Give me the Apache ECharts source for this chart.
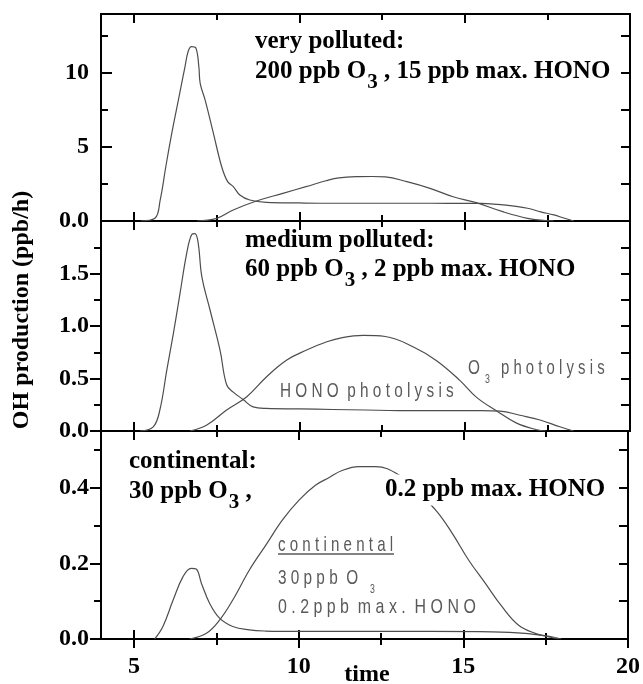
<!DOCTYPE html>
<html>
<head>
<meta charset="utf-8">
<script src="https://cdn.jsdelivr.net/npm/echarts@6/dist/echarts.min.js"></script>
<style>html,body{margin:0;padding:0;background:#fff}#c{width:643px;height:684px}</style>
</head>
<body>
<div id="c"></div>
<script>
// ---------- data (time in h, OH production in ppb/h) ----------
// very polluted
const tHonoVP = [5.2, 5.63, 5.79, 5.96, 6.14, 6.34, 6.54, 6.64, 6.74, 6.87, 6.96, 7.0, 7.15, 7.4, 7.65, 7.83, 8.0, 8.2, 8.5, 9.0, 10, 11, 12, 13, 14, 15, 15.5, 16.0, 16.5, 16.9, 17.3, 17.7, 18.0, 18.3];
const vHonoVP = [0, 0.18, 1.42, 3.67, 5.93, 8.18, 10.43, 11.5, 11.8, 11.7, 10.43, 9.31, 8.18, 5.93, 3.67, 2.66, 2.32, 1.76, 1.42, 1.26, 1.22, 1.2, 1.2, 1.2, 1.2, 1.19, 1.19, 1.12, 1.0, 0.86, 0.62, 0.41, 0.2, 0];
const tO3VP = [6.9, 7.5, 8.0, 8.7, 9.5, 10.2, 10.8, 11.2, 11.8, 12.2, 12.6, 13.25, 13.95, 14.65, 15.35, 16.15, 16.9, 17.45, 17.7];
const vO3VP = [0, 0.18, 0.74, 1.35, 1.87, 2.32, 2.72, 2.92, 3.0, 3.01, 2.98, 2.66, 2.21, 1.64, 1.24, 0.63, 0.18, 0.03, 0];
// medium polluted
const tHonoMP = [5.18, 5.58, 5.78, 5.99, 6.19, 6.39, 6.59, 6.74, 6.84, 6.94, 7.05, 7.3, 7.6, 7.8, 8.0, 8.3, 8.6, 9.0, 10, 11, 12, 13, 14, 15, 15.5, 16.07, 16.67, 17.28, 17.88, 18.29];
const vHonoMP = [0, 0.04, 0.2, 0.58, 0.93, 1.31, 1.69, 1.87, 1.88, 1.79, 1.47, 1.15, 0.77, 0.44, 0.37, 0.30, 0.23, 0.215, 0.21, 0.205, 0.2, 0.195, 0.195, 0.195, 0.195, 0.19, 0.15, 0.105, 0.04, 0];
const tO3MP = [6.69, 7.2, 7.8, 8.41, 9.01, 9.62, 10.22, 10.83, 11.3, 11.93, 12.6, 13.45, 14.15, 14.86, 15.36, 15.97, 16.57, 17.18, 17.45];
const vO3MP = [0, 0.057, 0.2, 0.327, 0.517, 0.676, 0.771, 0.85, 0.89, 0.91, 0.9, 0.8, 0.67, 0.48, 0.32, 0.19, 0.075, 0.012, 0];
// continental
const tHonoC = [5.63, 5.88, 6.19, 6.49, 6.74, 6.89, 7.05, 7.3, 7.6, 8.0, 8.5, 9.0, 10, 12, 14, 15.87, 16.88, 17.68, 17.98];
const vHonoC = [0, 0.033, 0.103, 0.165, 0.187, 0.185, 0.147, 0.094, 0.055, 0.033, 0.024, 0.021, 0.02, 0.02, 0.02, 0.019, 0.015, 0.006, 0];
const tO3C = [6.69, 7.2, 7.6, 8.0, 8.51, 9.01, 9.51, 10.02, 10.52, 10.93, 11.3, 11.83, 12.34, 13.04, 13.6, 14.2, 14.66, 15.16, 15.67, 16.17, 16.67, 17.18, 17.68, 17.9];
const vO3C = [0, 0.015, 0.05, 0.103, 0.183, 0.249, 0.315, 0.368, 0.407, 0.427, 0.445, 0.456, 0.456, 0.434, 0.39, 0.337, 0.28, 0.209, 0.147, 0.086, 0.037, 0.015, 0.004, 0];

// axes / ticks
const xMin = 4, xMax = 20;
const xMajorTicks = [5, 10, 15, 20];
const xMinorTicks = [7.5, 12.5, 17.5];
const xTickLabels = [5, 10, 15, 20];
const yMaxes = [14, 2, 0.55];
const yMajorTicks = [[0, 5, 10], [0, 0.5, 1, 1.5], [0, 0.2, 0.4]];
const yMinorTicks = [[2.5, 7.5, 12.5], [0.25, 0.75, 1.25, 1.75], [0.1, 0.3, 0.5]];
const yTickLabels = [[0, 5, 10], [0, 0.5, 1, 1.5], [0, 0.2, 0.4]];

// ---------- build ----------
const zip = (t, v) => t.map((x, i) => [x, v[i]]);
const seriesData = [
  [zip(tHonoVP, vHonoVP), zip(tO3VP, vO3VP)],
  [zip(tHonoMP, vHonoMP), zip(tO3MP, vO3MP)],
  [zip(tHonoC, vHonoC), zip(tO3C, vO3C)]
];

const SERIF = '"Liberation Serif", "Times New Roman", serif';
const grids = [
  {left: 101, right: 13, top: 14, height: 207},
  {left: 101, right: 13, top: 221, height: 210},
  {left: 101, right: 13, top: 431, height: 208}
];

const xAxes = [], yAxes = [], series = [];
function xAx(g, pos, ticks, len, inside, labels) {
  xAxes.push({
    type: 'value', gridIndex: g, min: xMin, max: xMax, position: pos,
    axisLine: {show: true, onZero: false, lineStyle: {color: '#000', width: 2}},
    axisTick: {show: true, inside: inside, length: len, customValues: ticks, lineStyle: {color: '#000', width: 2}},
    axisLabel: labels ? {show: true, customValues: labels, margin: 16, color: '#000',
      fontFamily: SERIF, fontWeight: 'bold', fontSize: 24, formatter: v => String(v)} : {show: false},
    splitLine: {show: false}
  });
  return xAxes.length - 1;
}
function yAx(g, pos, ticks, len, inside, labels, fmt) {
  yAxes.push({
    type: 'value', gridIndex: g, min: 0, max: yMaxes[g], position: pos,
    axisLine: {show: true, onZero: false, lineStyle: {color: '#000', width: 2}},
    axisTick: {show: true, inside: inside, length: len, customValues: ticks, lineStyle: {color: '#000', width: 2}},
    axisLabel: labels ? {show: true, customValues: labels, margin: 12, color: '#000',
      fontFamily: SERIF, fontWeight: 'bold', fontSize: 24, formatter: fmt} : {show: false},
    splitLine: {show: false}
  });
  return yAxes.length - 1;
}

for (let g = 0; g < 3; g++) {
  const last = g === 2;
  const xi = xAx(g, 'bottom', xMajorTicks, 9, true, last ? xTickLabels : null);
  xAx(g, 'bottom', xMinorTicks, 6, true, null);
  xAx(g, 'top', xMajorTicks, 9, true, null);
  xAx(g, 'top', xMinorTicks, 6, true, null);
  if (last) {
    xAx(g, 'bottom', xMajorTicks, 9, false, null);
    xAx(g, 'bottom', xMinorTicks, 6, false, null);
  }
  const fmt = g === 0 ? (v => v === 0 ? '0.0' : String(v)) : (v => v.toFixed(1));
  const leftInside = g === 0;
  const yi = yAx(g, 'left', yMajorTicks[g], 11, leftInside, yTickLabels[g], fmt);
  yAx(g, 'left', yMinorTicks[g], 7, leftInside, null);
  yAx(g, 'right', yMajorTicks[g].concat(yMinorTicks[g]), 9, true, null);
  seriesData[g].forEach(d => series.push({
    type: 'line', xAxisIndex: xi, yAxisIndex: yi, data: d, showSymbol: false,
    smooth: 0.4, silent: true,
    lineStyle: {color: '#4d4d4d', width: 1.2}
  }));
}

const boldStyle = {fontFamily: SERIF, fontWeight: 'bold', fontSize: 25, fill: '#000', lineHeight: 30};
const subStyle = {fontFamily: SERIF, fontWeight: 'bold', fontSize: 21, fill: '#000', lineHeight: 30, padding: [22, 0, 0, 1]};
function heading(x, y, text) {
  return {type: 'text', x: x, y: y, z: 100,
    style: {text: text, textAlign: 'left', verticalAlign: 'middle', textVerticalAlign: 'middle',
      font: 'bold 25px ' + SERIF, fill: '#000', rich: {b: boldStyle, s: subStyle}}};
}
const GRAY = '#5a5a5a';
const SANS = '"Liberation Sans", Arial, sans-serif';
function grayText(x, y, text, sx, size) {
  return {type: 'text', x: x, y: y, scaleX: sx, z: 100,
    style: {text: text, textAlign: 'left', verticalAlign: 'middle', textVerticalAlign: 'middle',
      font: (size || 21) + 'px ' + SANS, fill: GRAY}};
}

const graphic = [
  {type: 'text', x: 22, y: 310, rotation: Math.PI / 2,
    style: {text: 'OH production (ppb/h)', textAlign: 'center', verticalAlign: 'middle', textVerticalAlign: 'middle',
      font: 'bold 24px ' + SERIF, fill: '#000'}},
  {type: 'text', x: 367, y: 675,
    style: {text: 'time', textAlign: 'center', verticalAlign: 'middle', textVerticalAlign: 'middle',
      font: 'bold 24px ' + SERIF, fill: '#000'}},
  heading(255, 42, '{b|very polluted:}'),
  heading(255, 72, '{b|200 ppb O}{s|3}{b| , 15 ppb max. HONO}'),
  heading(245, 241, '{b|medium polluted:}'),
  heading(245, 270, '{b|60 ppb O}{s|3}{b| , 2 ppb max. HONO}'),
  heading(129, 462, '{b|continental:}'),
  heading(129, 492, '{b|30 ppb O}{s|3}{b| ,}'),
  {type: 'text', x: 383, y: 490, z: 100,
    style: {text: '0.2 ppb max. HONO', textAlign: 'left', verticalAlign: 'middle', textVerticalAlign: 'middle',
      font: 'bold 25px ' + SERIF, fill: '#000', backgroundColor: '#fff', padding: [3, 2, 3, 2]}},
  grayText(280, 391, 'H O N O  p h o t o l y s i s', 0.73),
  grayText(468, 368, 'O', 0.73),
  grayText(485, 380, '3', 0.73, 12),
  grayText(501, 368, 'p h o t o l y s i s', 0.71),
  grayText(278, 545, 'c o n t i n e n t a l', 0.72),
  {type: 'line', shape: {x1: 278, y1: 554, x2: 394, y2: 554}, style: {stroke: GRAY, lineWidth: 1.5}},
  grayText(278, 578, '3 0 p p b  O', 0.73),
  grayText(370, 590, '3', 0.73, 12),
  grayText(278, 607, '0 . 2 p p b  m a x .  H O N O', 0.76)
];

const chart = echarts.init(document.getElementById('c'), null, {renderer: 'canvas'});
chart.setOption({
  animation: false,
  backgroundColor: '#fff',
  grid: grids,
  xAxis: xAxes,
  yAxis: yAxes,
  series: series,
  graphic: graphic
});
</script>
</body>
</html>
